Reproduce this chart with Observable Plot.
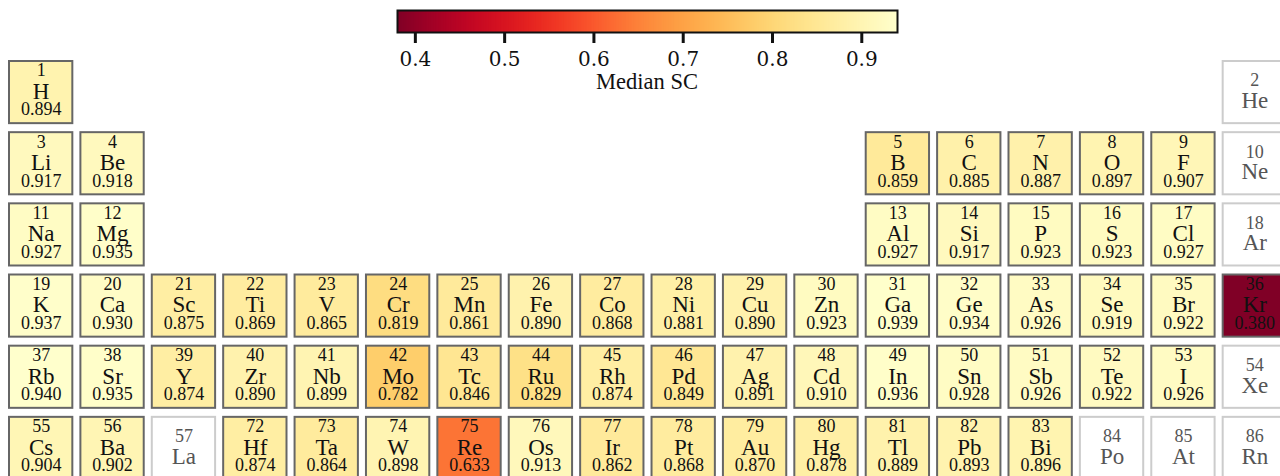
<!DOCTYPE html>
<html>
<head>
<meta charset="utf-8">
<script src="https://cdn.jsdelivr.net/npm/d3@7"></script>
<script src="https://cdn.jsdelivr.net/npm/@observablehq/plot@0.6"></script>
<style>
  html, body { margin: 0; padding: 0; background: white; overflow: hidden; }
  #wrap { position: relative; width: 1280px; height: 476px; }
  #table { position: absolute; left: 0; top: 0; }
  #bar { position: absolute; left: 377px; top: 0; }
  #barLabel { position: absolute; left: 397px; width: 500px; top: 69px; text-align: center;
    font-family: "Liberation Serif", serif; font-size: 22.5px; line-height: 26px; color: #111; }
</style>
</head>
<body>
<div id="wrap">
  <div id="table"></div>
  <div id="bar"></div>
  <div id="barLabel">Median SC</div>
</div>
<script>
// Elements shown in the first six periods of the table
const symbols = [
  "H","He",
  "Li","Be","B","C","N","O","F","Ne",
  "Na","Mg","Al","Si","P","S","Cl","Ar",
  "K","Ca","Sc","Ti","V","Cr","Mn","Fe","Co","Ni","Cu","Zn","Ga","Ge","As","Se","Br","Kr",
  "Rb","Sr","Y","Zr","Nb","Mo","Tc","Ru","Rh","Pd","Ag","Cd","In","Sn","Sb","Te","I","Xe",
  "Cs","Ba","La","Hf","Ta","W","Re","Os","Ir","Pt","Au","Hg","Tl","Pb","Bi","Po","At","Rn"
];
const atomicNumbers = [
  1,2,
  3,4,5,6,7,8,9,10,
  11,12,13,14,15,16,17,18,
  19,20,21,22,23,24,25,26,27,28,29,30,31,32,33,34,35,36,
  37,38,39,40,41,42,43,44,45,46,47,48,49,50,51,52,53,54,
  55,56,57,72,73,74,75,76,77,78,79,80,81,82,83,84,85,86
];
const groups = [
  1,18,
  1,2,13,14,15,16,17,18,
  1,2,13,14,15,16,17,18,
  1,2,3,4,5,6,7,8,9,10,11,12,13,14,15,16,17,18,
  1,2,3,4,5,6,7,8,9,10,11,12,13,14,15,16,17,18,
  1,2,3,4,5,6,7,8,9,10,11,12,13,14,15,16,17,18
];
const periods = [
  1,1,
  2,2,2,2,2,2,2,2,
  3,3,3,3,3,3,3,3,
  4,4,4,4,4,4,4,4,4,4,4,4,4,4,4,4,4,4,
  5,5,5,5,5,5,5,5,5,5,5,5,5,5,5,5,5,5,
  6,6,6,6,6,6,6,6,6,6,6,6,6,6,6,6,6,6
];
// Median SC per element (null = no data)
const medianSC = [
  0.894,null,
  0.917,0.918,0.859,0.885,0.887,0.897,0.907,null,
  0.927,0.935,0.927,0.917,0.923,0.923,0.927,null,
  0.937,0.930,0.875,0.869,0.865,0.819,0.861,0.890,0.868,0.881,0.890,0.923,0.939,0.934,0.926,0.919,0.922,0.380,
  0.940,0.935,0.874,0.890,0.899,0.782,0.846,0.829,0.874,0.849,0.891,0.910,0.936,0.928,0.926,0.922,0.926,null,
  0.904,0.902,null,0.874,0.864,0.898,0.633,0.913,0.862,0.868,0.870,0.878,0.889,0.893,0.896,null,null,null
];

const elements = symbols.map((s, i) => ({
  symbol: s, number: atomicNumbers[i], group: groups[i], period: periods[i], value: medianSC[i]
}));
const withData = elements.filter(d => d.value != null);
const noData = elements.filter(d => d.value == null);

const known = medianSC.filter(v => v != null);
const colorDomain = [d3.min(known), d3.max(known)];
const color = {type: "linear", scheme: "YlOrRd", reverse: true, domain: colorDomain};
const serif = "Liberation Serif, Times New Roman, serif";

const table = Plot.plot({
  width: 1280,
  height: 480,
  margin: 0,
  style: {fontFamily: serif, background: "white"},
  x: {type: "band", domain: d3.range(1, 19), range: [8, 1287], paddingInner: 0.085, paddingOuter: 0, round: false, axis: null},
  y: {type: "band", domain: d3.range(1, 7), range: [60, 480], paddingInner: 0.0986, paddingOuter: 0, round: false, axis: null},
  color,
  marks: [
    Plot.cell(noData, {x: "group", y: "period", fill: "white", stroke: "#cccccc", strokeWidth: 2, inset: 1}),
    Plot.cell(withData, {x: "group", y: "period", fill: "value", stroke: "#666666", strokeWidth: 2, inset: 1}),
    // filled cells: number, symbol, value
    Plot.text(withData, {x: "group", y: "period", text: d => String(d.number), dy: -22, fontSize: 18, fill: "#111"}),
    Plot.text(withData, {x: "group", y: "period", text: "symbol", dy: -1, fontSize: 23, fill: "#111"}),
    Plot.text(withData, {x: "group", y: "period", text: d => d.value.toFixed(3), dy: 17, fontSize: 18, fill: "#111"}),
    // empty cells: number and symbol only, in grey
    Plot.text(noData, {x: "group", y: "period", text: d => String(d.number), dy: -12, fontSize: 18, fill: "#555"}),
    Plot.text(noData, {x: "group", y: "period", text: "symbol", dy: 8, fontSize: 23, fill: "#555"})
  ]
});
document.getElementById("table").append(table);

// Colour bar
const colorTicks = [0.4, 0.5, 0.6, 0.7, 0.8, 0.9];
const nSteps = 300;
const stepWidth = (colorDomain[1] - colorDomain[0]) / nSteps;
const slices = d3.range(nSteps).map(i => colorDomain[0] + i * stepWidth);

const bar = Plot.plot({
  width: 540,
  height: 70,
  marginLeft: 20,
  marginRight: 20,
  marginTop: 10,
  marginBottom: 38,
  style: {fontFamily: "DejaVu Serif, serif", background: "transparent", color: "#111", overflow: "visible"},
  x: {domain: colorDomain, axis: null},
  color,
  marks: [
    Plot.rect(slices, {x1: d => d, x2: d => Math.min(d + stepWidth * 1.5, colorDomain[1]), fill: d => d + stepWidth / 2}),
    Plot.frame({stroke: "#111", strokeWidth: 2}),
    Plot.axisX({ticks: colorTicks, tickSize: 11, tickPadding: 8, strokeWidth: 3, fontSize: 20,
      tickFormat: d => d.toFixed(1), label: null, style: {letterSpacing: "3px"}})
  ]
});
document.getElementById("bar").append(bar);
</script>
</body>
</html>
